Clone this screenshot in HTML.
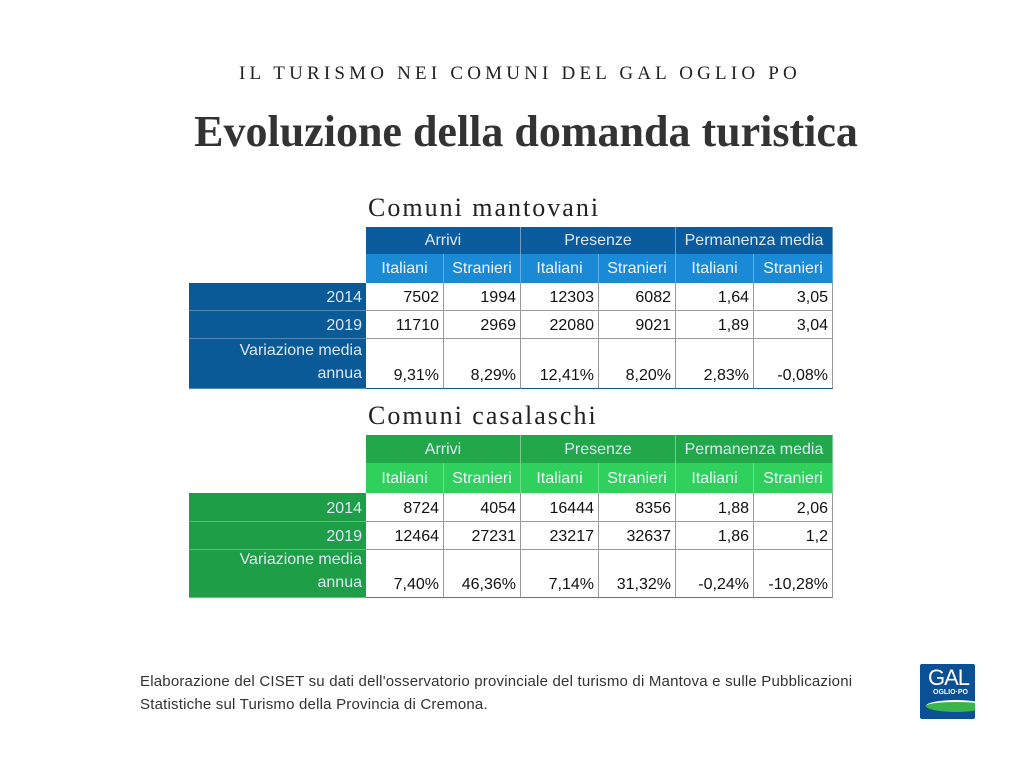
<!DOCTYPE html>
<html><head><meta charset="utf-8"><style>
body{margin:0;width:1024px;height:768px;background:#fff;position:relative;overflow:hidden;font-family:"Liberation Sans",sans-serif}
.a{position:absolute;white-space:nowrap}
.c{position:absolute;box-sizing:border-box;font-size:16px;line-height:19px;display:flex;align-items:flex-end;justify-content:flex-end;padding:0 4px 3px 0}
.h{justify-content:center;align-items:center;padding:0}
</style></head><body>
<div class="a" style="left:0;width:1040px;text-align:center;top:63px;font-family:'Liberation Serif',serif;font-size:19px;letter-spacing:4.2px;color:#222">IL TURISMO NEI COMUNI DEL GAL OGLIO PO</div>
<div class="a" style="left:0;width:1052px;text-align:center;top:106px;font-family:'Liberation Serif',serif;font-size:44px;font-weight:bold;color:#333">Evoluzione della domanda turistica</div>
<div class="a" style="left:368px;top:193px;font-family:'Liberation Serif',serif;font-size:26px;letter-spacing:2px;color:#222">Comuni mantovani</div>
<div class="a" style="left:368px;top:401px;font-family:'Liberation Serif',serif;font-size:26px;letter-spacing:2px;color:#222">Comuni casalaschi</div>
<div id="t1"></div><div id="t2"></div>
<div class="a" style="left:140px;top:670px;font-size:15px;line-height:23px;color:#333;letter-spacing:0.2px">Elaborazione del CISET su dati dell'osservatorio provinciale del turismo di Mantova e sulle Pubblicazioni<br>Statistiche sul Turismo della Provincia di Cremona.</div>
<div class="a" style="left:920px;top:664px;width:55px;height:55px;background:#0b4f94;border-radius:2px;overflow:hidden">
<div class="a" style="left:8px;top:1px;color:#fff;font-size:22px;letter-spacing:-1px">GAL</div>
<div class="a" style="left:13px;top:25px;color:#fff;font-size:7px;font-weight:bold">OGLIO·PO</div>
<div class="a" style="left:6px;top:36px;width:60px;height:10px;border-radius:50%;background:#3bb54a;border-top:2px solid #fff"></div>
</div>
<script>
function tbl(el,top,rows,dark,sub,head,data){
 var xs=[189,366,444,521,599,676,754,833];var h='';
 var y=top;
 var groups=['Arrivi','Presenze','Permanenza media'];
 for(var g=0;g<3;g++){var x0=xs[1+2*g],x1=xs[3+2*g];
  h+='<div class="c h" style="left:'+x0+'px;top:'+y+'px;width:'+(x1-x0)+'px;height:'+rows[0]+'px;background:'+head+';color:#dde8f5;border-right:1px solid rgba(255,255,255,.4)">'+groups[g]+'</div>';}
 y+=rows[0];
 var sl=['Italiani','Stranieri','Italiani','Stranieri','Italiani','Stranieri'];
 for(var i=0;i<6;i++)h+='<div class="c h" style="left:'+xs[i+1]+'px;top:'+y+'px;width:'+(xs[i+2]-xs[i+1])+'px;height:'+rows[1]+'px;background:'+sub+';color:#eef4fb;border-right:1px solid rgba(255,255,255,.3)">'+sl[i]+'</div>';
 y+=rows[1];
 var labs=['2014','2019','Variazione media<br>annua'];
 for(var r=0;r<3;r++){var rh=rows[r+2];
  h+='<div class="c" style="left:189px;top:'+y+'px;width:177px;height:'+rh+'px;background:'+dark+';color:#dde8f5;text-align:right;line-height:'+(r==2?23:19)+'px;border-bottom:1px solid rgba(255,255,255,.3)">'+labs[r]+'</div>';
  for(var i=0;i<6;i++)h+='<div class="c" style="left:'+xs[i+1]+'px;top:'+y+'px;width:'+(xs[i+2]-xs[i+1])+'px;height:'+rh+'px;background:#fff;color:#111;border-right:1px solid #999;border-bottom:1px solid '+(r==2?dark:'#999')+'">'+data[r][i]+'</div>';
  y+=rh;}
 document.getElementById(el).innerHTML=h;
}
tbl('t1',227,[27,29,28,28,50],'#0b5a98','#1a8ad6','#0b5c9e',[['7502','1994','12303','6082','1,64','3,05'],['11710','2969','22080','9021','1,89','3,04'],['9,31%','8,29%','12,41%','8,20%','2,83%','-0,08%']]);
tbl('t2',435,[28,30,29,28,48],'#1f9e48','#2fd05c','#22a84a',[['8724','4054','16444','8356','1,88','2,06'],['12464','27231','23217','32637','1,86','1,2'],['7,40%','46,36%','7,14%','31,32%','-0,24%','-10,28%']]);
</script>
</body></html>
